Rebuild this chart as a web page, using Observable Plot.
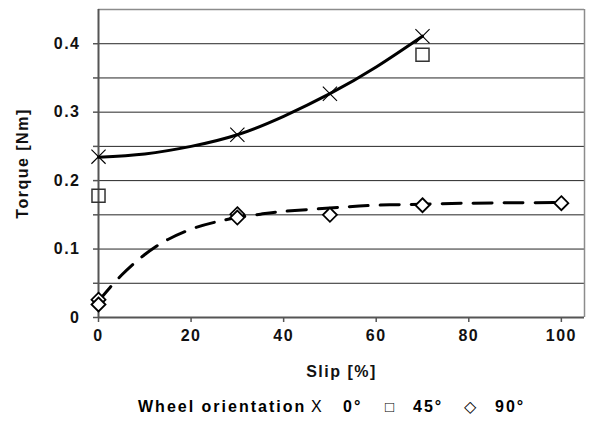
<!DOCTYPE html>
<html><head><meta charset="utf-8">
<script src="https://cdn.jsdelivr.net/npm/d3@7"></script>
<script src="https://cdn.jsdelivr.net/npm/@observablehq/plot@0.6"></script>
<style>
body{margin:0;background:#fff;font-family:"Liberation Sans",Arial,sans-serif;}
#wrap{position:relative;width:589px;height:425px;}
#legend{position:absolute;top:398px;left:0;width:589px;height:18px;line-height:18px;font-size:16px;font-weight:bold;letter-spacing:2px;color:#000;}
#legend span{position:absolute;top:0;white-space:nowrap;}
#legend .sym{font-weight:normal;letter-spacing:0;}
</style>
</head><body><div id="wrap"><div id="chart"></div><div id="legend"></div></div>
<script>
// ---- data ----
const slip0 = [0, 30, 50, 70];
const torque0 = [0.235, 0.267, 0.327, 0.411];
const slip45 = [0, 70];
const torque45 = [0.178, 0.384];
const slip90 = [0, 0, 30, 30, 50, 70, 100];
const torque90 = [0.026, 0.019, 0.151, 0.146, 0.150, 0.164, 0.167];
// trend lines
const trend0Slip = [0, 10, 20, 30, 40, 50, 60, 70];
const trend0Torque = [0.234, 0.239, 0.250, 0.267, 0.294, 0.327, 0.366, 0.411];
const trend90Slip = [0, 2.5, 5, 7.5, 10, 12.5, 15, 20, 25, 30, 35, 40, 50, 60, 70, 80, 100];
const trend90Torque = [0.024, 0.044, 0.062, 0.078, 0.092, 0.104, 0.114, 0.129, 0.139, 0.146, 0.151, 0.155, 0.160, 0.164, 0.1655, 0.167, 0.168];
const xTicks = [0, 20, 40, 60, 80, 100];
const xDomain = [0, 105];
const yTicks = [0, 0.1, 0.2, 0.3, 0.4];
const yTickLabels = ["0", "0.1", "0.2", "0.3", "0.4"];
const yMinor = [0, 0.05, 0.1, 0.15, 0.2, 0.25, 0.3, 0.35, 0.4];
const yGrid = [0.05, 0.1, 0.15, 0.2, 0.25, 0.3, 0.35, 0.4];
const yDomain = [0, 0.45];
const xLabel = "Slip [%]";
const yLabel = "Torque [Nm]";
const legendTitle = "Wheel orientation";
const seriesNames = ["0°", "45°", "90°"];
const legendSymbols = ["X", "□", "◇"];

const pts = (xs, ys) => xs.map((x, i) => ({x, y: ys[i]}));

const chart = Plot.plot({
  width: 589, height: 390,
  marginTop: 9, marginBottom: 73, marginLeft: 98, marginRight: 5,
  x: {domain: xDomain},
  y: {domain: yDomain},
  style: {fontFamily: "'Liberation Sans', Arial, sans-serif", fontSize: "16px", fontWeight: "bold", letterSpacing: "1.5px", color: "#000", background: "#fff"},
  marks: [
    Plot.ruleY(yGrid, {stroke: "#262626", strokeWidth: 1}),
    Plot.ruleY([yDomain[1]], {stroke: "#8c8c8c", strokeWidth: 1.5}),
    Plot.ruleX([xDomain[1]], {stroke: "#8c8c8c", strokeWidth: 1.5}),
    Plot.axisY({ticks: yMinor, tickSize: 5, tickFormat: () => "", stroke: "#555", strokeWidth: 1.5, label: null}),
    Plot.axisY({ticks: yTicks, tickSize: 0, tickPadding: 18, tickFormat: d => yTickLabels[yTicks.indexOf(d)], fill: "#111", label: null}),
    Plot.axisX({ticks: xTicks, tickSize: 5, tickFormat: () => "", stroke: "#555", strokeWidth: 1.5, label: null}),
    Plot.axisX({ticks: xTicks, tickSize: 0, tickPadding: 12, fill: "#111", label: null}),
    Plot.ruleX([0], {stroke: "#555", strokeWidth: 2}),
    Plot.ruleY([0], {stroke: "#555", strokeWidth: 2}),
    Plot.line(pts(trend90Slip, trend90Torque), {x: "x", y: "y", stroke: "#000", strokeWidth: 3, strokeDasharray: "19,12", curve: "natural"}),
    Plot.line(pts(trend0Slip, trend0Torque), {x: "x", y: "y", stroke: "#000", strokeWidth: 3, curve: "natural"}),
    Plot.dot(pts(slip0, torque0), {x: "x", y: "y", symbol: "times", r: 6.5, stroke: "#000", strokeWidth: 1.1, fill: "none"}),
    Plot.dot(pts(slip45, torque45), {x: "x", y: "y", symbol: "square2", r: 8.3, stroke: "#333", strokeWidth: 1.5, fill: "none"}),
    Plot.dot(pts(slip90, torque90), {x: "x", y: "y", symbol: "diamond2", r: 6.3, stroke: "#000", strokeWidth: 1.8, fill: "#fff"}),
    Plot.text([yLabel], {frameAnchor: "left", textAnchor: "middle", lineAnchor: "middle", rotate: -90, dx: -76, fill: "#111"}),
    Plot.text([xLabel], {frameAnchor: "bottom", textAnchor: "middle", lineAnchor: "middle", dy: 54, fill: "#111"})
  ]
});
document.getElementById("chart").append(chart);

// legend
const leg = document.getElementById("legend");
const items = [
  {t: legendTitle, left: 138, cls: ""},
  {t: legendSymbols[0], left: 311, cls: "sym", size: "16px"},
  {t: seriesNames[0], left: 343, cls: ""},
  {t: legendSymbols[1], left: 385, cls: "sym", size: "15px"},
  {t: seriesNames[1], left: 413, cls: ""},
  {t: legendSymbols[2], left: 464, cls: "sym", size: "16px"},
  {t: seriesNames[2], left: 495, cls: ""}
];
for (const it of items) {
  const s = document.createElement("span");
  s.textContent = it.t;
  s.style.left = it.left + "px";
  if (it.cls) s.className = it.cls;
  if (it.size) s.style.fontSize = it.size;
  leg.append(s);
}
</script>
</body></html>
